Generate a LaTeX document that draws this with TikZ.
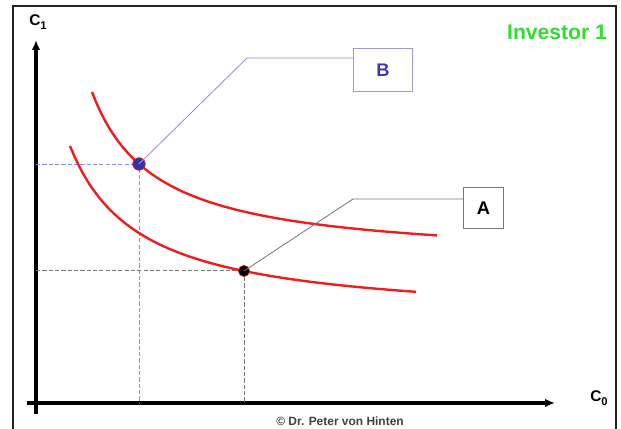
\documentclass[tikz,border=0pt]{standalone}
\usepackage{fontspec}
\setmainfont{Liberation Sans}
\usepackage{tikz}
\usetikzlibrary{arrows.meta}
\definecolor{kurveRot}{HTML}{EE1C1C}
\definecolor{punktBlau}{HTML}{3434A8}
\definecolor{linieBlau}{HTML}{8F8FD8}
\definecolor{boxBlau}{HTML}{9A9ADE}
\definecolor{textBlau}{HTML}{3A3AC0}
\definecolor{linieGrau}{HTML}{777777}
\definecolor{gruen}{HTML}{2EDD2E}
\definecolor{rahmen}{HTML}{222222}
\begin{document}
\begin{tikzpicture}[x=0.025cm,y=-0.025cm]
\useasboundingbox (0,0) rectangle (621,429);
\draw[rahmen,line width=0.9pt] (13,440)--(13,6)--(616,6)--(616,440);
% axes
\draw[line width=2.3pt,-{Latex[length=7pt,width=6pt]}] (36,414)--(36,40);
\draw[line width=2.3pt,-{Latex[length=7pt,width=6pt]}] (27,403)--(555,403);
\node[font=\fontsize{11}{13}\selectfont\bfseries] (c1) at (38,22) {C\raisebox{-0.45ex}{\footnotesize 1}};
\node[font=\fontsize{11}{13}\selectfont\bfseries] (c0) at (599,398) {C\raisebox{-0.45ex}{\footnotesize 0}};
% dashed helper lines
\draw[linieBlau,dash pattern=on 3pt off 1.5pt,line width=0.6pt] (36,164)--(139,164)--(139,403);
\draw[linieGrau,dash pattern=on 3pt off 1.5pt,line width=0.6pt] (36,270)--(244,270)--(244,403);
% indifference curves
\draw[kurveRot,line width=1.7pt] plot[domain=92:437,samples=80] (\x,{262-10883/(\x-28)});
\draw[kurveRot,line width=1.7pt] plot[domain=70:416,samples=80] (\x,{321.3-12269/\x});
% points
\node[circle,fill=punktBlau,draw=kurveRot,line width=0.4pt,inner sep=0pt,minimum size=9pt] (pB) at (139,164) {};
\node[circle,fill=black,draw=kurveRot,line width=0.4pt,inner sep=0pt,minimum size=8pt] (pA) at (244,271) {};
% labels
\node[draw=boxBlau,line width=0.8pt,minimum width=42pt,minimum height=30pt,font=\fontsize{13}{15}\selectfont\bfseries,text=textBlau] (B) at (383,70) {B};
\node[draw=linieGrau,line width=0.8pt,minimum width=28pt,minimum height=29pt,font=\fontsize{13}{15}\selectfont\bfseries] (A) at (483.5,208) {A};
\coordinate (kB) at (247,58);
\coordinate (kA) at (353,199);
\draw[linieBlau,line width=0.6pt] (pB.center)--(kB)--(kB-|B.west);
\draw[linieGrau,line width=0.6pt] (pA.center)--(kA)--(kA-|A.west);
\node[text=gruen,font=\fontsize{15}{18}\selectfont\bfseries] (inv) at (557,32) {Investor 1};
\node[text=black!75,font=\fontsize{8.5}{10}\selectfont\bfseries] (copy) at (340,421) {© Dr. Peter von Hinten};
\end{tikzpicture}
\end{document}
